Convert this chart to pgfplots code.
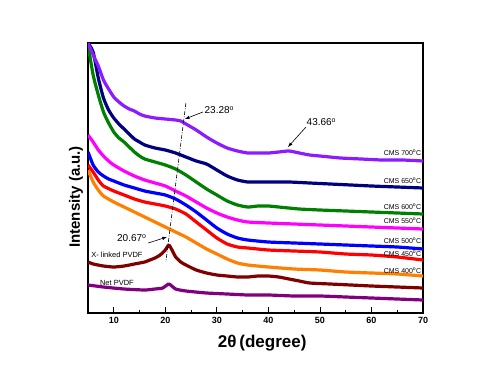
\documentclass[border=0pt]{standalone}
\usepackage{fontspec}
\setmainfont{Liberation Sans}
\usepackage{pgfplots}
\pgfplotsset{compat=1.18}
\definecolor{c700}{RGB}{138,28,255}
\definecolor{c650}{RGB}{0,0,128}
\definecolor{c600}{RGB}{0,128,0}
\definecolor{c550}{RGB}{255,0,255}
\definecolor{c500}{RGB}{0,0,255}
\definecolor{c450}{RGB}{255,0,0}
\definecolor{c400}{RGB}{255,128,0}
\definecolor{cxl}{RGB}{128,0,0}
\definecolor{cnet}{RGB}{128,0,128}
\tikzset{
  cms/.style={anchor=east, font=\fontsize{7}{8}\selectfont, inner sep=1pt},
  ann/.style={font=\fontsize{10}{12}\selectfont, inner sep=1pt},
}

\begin{document}
\begin{tikzpicture}[x=1pt,y=1pt]
\path (0,0) rectangle (494,378);
\begin{axis}[
    at={(88pt,65pt)}, anchor=south west,
    scale only axis, width=335pt, height=270pt,
    xmin=5, xmax=70, ymin=43, ymax=313, y dir=reverse,
    axis line style={line width=1.1pt},
    xtick={10,20,...,70}, minor x tick num=1,
    xtick pos=bottom, tick align=inside,
    major tick length=6pt, minor tick length=3pt,
    every tick/.style={black, line width=0.8pt},
    ytick=\empty,
    xticklabel style={font=\fontsize{9}{10}\selectfont\bfseries, yshift=-1pt},
    /pgf/number format/assume math mode=true,
    xlabel={2θ\,(degree)},
    xlabel style={font=\fontsize{17}{20}\selectfont\bfseries, at={(axis description cs:0.52,-0.111)}, anchor=center},
    ylabel={Intensity (a.u.)},
    ylabel style={font=\fontsize{15}{18}\selectfont\bfseries, at={(axis description cs:-0.036,0.43)}, anchor=center},
    every axis plot/.append style={line width=3.2pt, line join=round, smooth, tension=0.35},
    clip=true,
]
% Net PVDF
\addplot[cnet] coordinates {(5,285)(8,287)(12,289)(16,290)(18,289)(19.5,288)(20.7,284)(22,289)(24,291)(28,293)(32,294)(36,295)(40,295)(45,296)(50,296)(55,297)(60,298)(65,299)(70,300)};
% X-linked PVDF
\addplot[cxl] coordinates {(5,262)(6,264)(8,266)(10,267)(12,266)(14,264)(16,262)(17,260)(18,258)(19,255)(20,250)(20.7,245)(21.5,252)(22,257)(23,262)(24,265)(26,270)(28,273)(30,275)(32,276)(34,277)(36,277)(38,276)(40,276)(42,277)(44,279)(46,281)(48,283)(52,284)(56,285)(60,286)(65,287)(70,288)};
% CMS 400
\addplot[c400] coordinates {(5,170)(6,182)(7,190)(8,196)(10,202)(12,207)(14,212)(16,217)(18,222)(20,227)(22,232)(24,237)(26,243)(28,249)(30,254)(32,259)(34,263)(36,265)(40,267)(45,269)(50,270)(55,272)(60,273)(65,274)(70,276)};
% CMS 450
\addplot[c450] coordinates {(5,165)(6,172)(7,180)(8,186)(10,191)(12,195)(14,199)(16,202)(18,204)(20,206)(22,209)(24,214)(26,222)(28,230)(30,238)(32,244)(34,247)(36,248)(40,250)(45,251)(50,252)(55,254)(60,255)(65,257)(70,260)};
% CMS 500
\addplot[c500] coordinates {(5,152)(6,165)(7,172)(8,176)(9,179)(10,181)(12,185)(14,188)(16,191)(18,193)(20,195)(22,199)(24,205)(26,212)(28,220)(30,228)(32,234)(34,238)(36,240)(40,242)(45,243)(50,244)(55,245)(60,246)(65,247)(70,249)};
% CMS 550
\addplot[c550] coordinates {(5,135)(6,142)(7,150)(8,156)(9,161)(10,165)(12,171)(14,176)(16,180)(18,183)(20,186)(22,191)(24,196)(26,202)(28,208)(30,213)(32,217)(34,220)(36,222)(40,223)(45,224)(50,225)(55,226)(60,227)(65,228)(70,229)};
% CMS 600
\addplot[c600] coordinates {(5,45)(6,75)(7,95)(8,112)(9,123)(10,132)(11,138)(12,142)(13,147)(14,152)(15,156)(16,159)(18,162)(20,165)(22,169)(24,175)(26,182)(28,189)(30,195)(32,201)(34,205)(36,207)(38,206)(40,206)(42,207)(46,209)(50,210)(55,211)(60,212)(65,213)(70,214)};
% CMS 650
\addplot[c650] coordinates {(5,43)(6,52)(7,78)(8,98)(9,110)(10,118)(11,124)(12,129)(13,134)(14,139)(15,142)(16,145)(18,148)(20,150)(22,153)(24,157)(26,161)(28,164)(30,170)(32,176)(34,180)(36,182)(38,182)(40,182)(44,182)(48,183)(52,184)(56,185)(60,186)(65,187)(70,188)};
% CMS 700
\addplot[c700] coordinates {(5,43)(6,55)(7,66)(8,80)(9,89)(10,97)(11,102)(12,106)(13,109)(14,111)(15,114)(16,116)(18,118)(20,119)(22,120)(23,121)(24,124)(26,130)(28,137)(30,143)(32,148)(34,151)(36,153)(38,153)(40,153)(42,152)(44,151)(46,153)(48,155)(50,156)(54,158)(58,159)(62,160)(66,160)(70,161)};

% peak guide and annotations
\draw[black, line width=0.6pt, dash pattern=on 4pt off 1.5pt on 1pt off 1.5pt] (axis cs:24.0,103) -- (axis cs:20.1,262);
\draw[-latex, line width=0.6pt] (axis cs:27.3,112) -- (axis cs:23.8,119);
\node[ann, anchor=west] at (axis cs:27.4,110) {23.28\textsuperscript{o}};
\draw[-latex, line width=0.6pt] (axis cs:47.3,127) -- (axis cs:43.8,147);
\node[ann, anchor=west] at (axis cs:47.2,122) {43.66\textsuperscript{o}};
\draw[-latex, line width=0.6pt] (axis cs:16.7,243) -- (axis cs:20.3,237);
\node[ann, anchor=east] at (axis cs:16.6,238) {20.67\textsuperscript{o}};

\node[anchor=west, font=\fontsize{7.5}{9}\selectfont, inner sep=1pt] at (axis cs:5.4,255) {X- linked PVDF};
\node[anchor=west, font=\fontsize{7.5}{9}\selectfont, inner sep=1pt] at (axis cs:7.1,283) {Net PVDF};

\node[cms] at (axis cs:69.9,153) {CMS 700\textsuperscript{o}C};
\node[cms] at (axis cs:69.9,181) {CMS 650\textsuperscript{o}C};
\node[cms] at (axis cs:69.9,207) {CMS 600\textsuperscript{o}C};
\node[cms] at (axis cs:69.9,221) {CMS 550\textsuperscript{o}C};
\node[cms] at (axis cs:69.9,241) {CMS 500\textsuperscript{o}C};
\node[cms] at (axis cs:69.9,254) {CMS 450\textsuperscript{o}C};
\node[cms] at (axis cs:69.9,271) {CMS 400\textsuperscript{o}C};
\end{axis}
\end{tikzpicture}
\end{document}
